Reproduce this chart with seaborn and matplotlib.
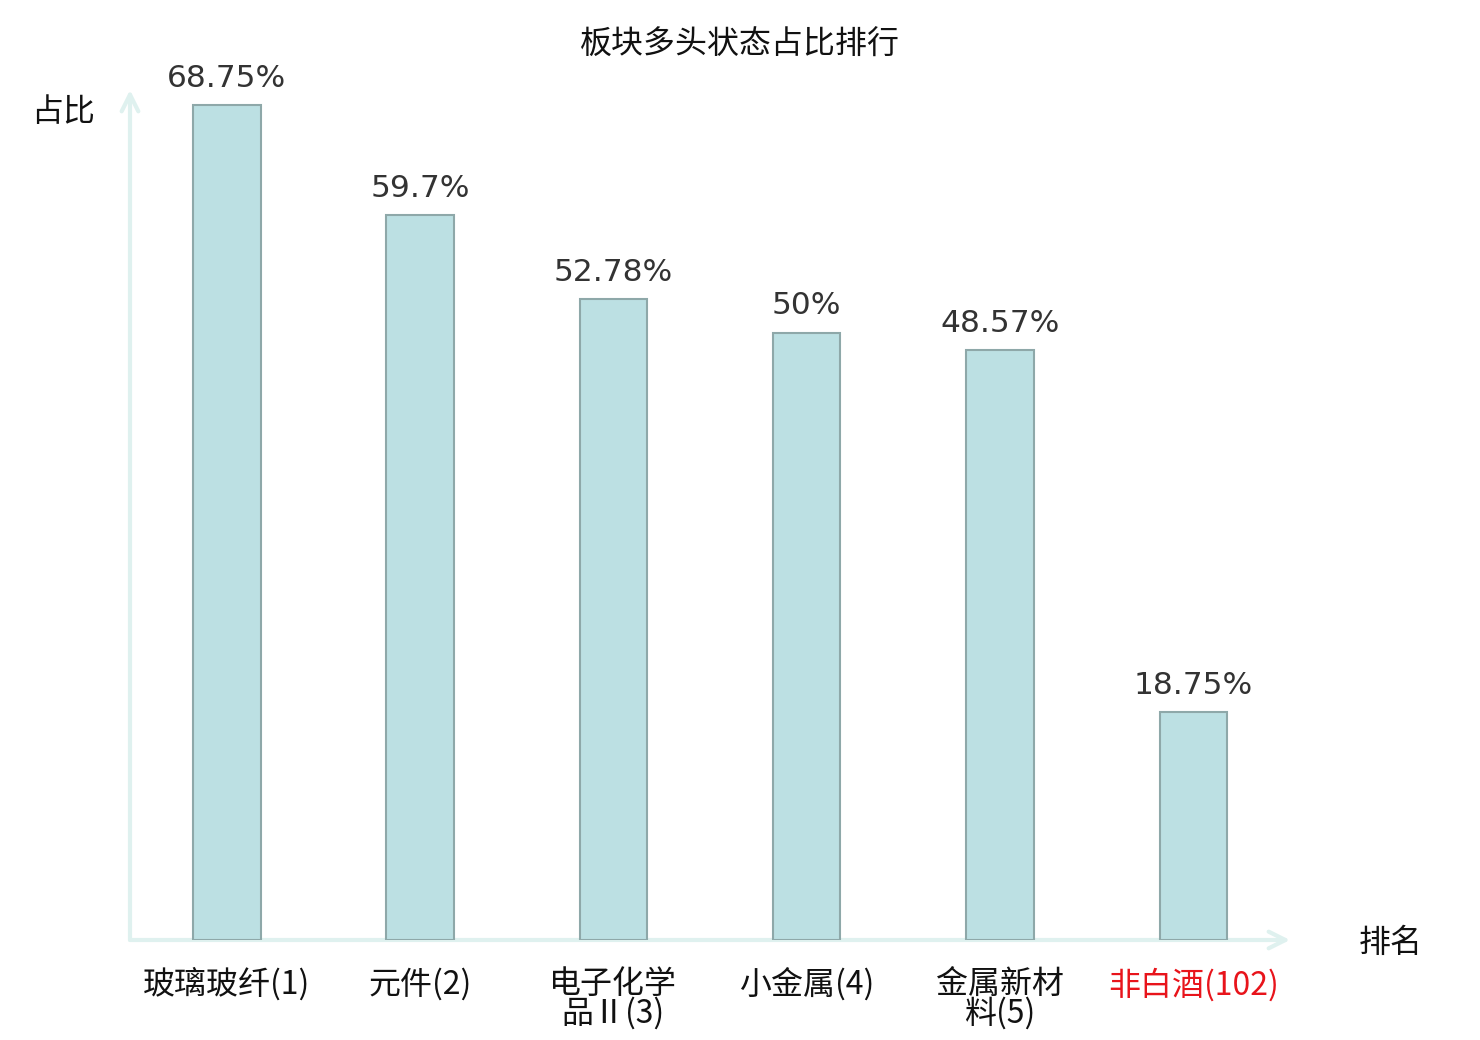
import matplotlib
matplotlib.use("Agg")
import matplotlib.pyplot as plt
import seaborn as sns
import pandas as pd

categories = ["玻璃玻纤(1)", "元件(2)", "电子化学\n品Ⅱ(3)", "小金属(4)", "金属新材\n料(5)", "非白酒(102)"]
values = [68.75, 59.7, 52.78, 50, 48.57, 18.75]
label_colors = ["#111111", "#111111", "#111111", "#111111", "#111111", "#e8141b"]
title = "板块多头状态占比排行"
y_name = "占比"
x_name = "排名"

sns.set_theme(style="white")
plt.rcParams["font.family"] = ["Noto Sans CJK SC", "DejaVu Sans"]

df = pd.DataFrame({"cat": categories, "val": values})

fig = plt.figure(figsize=(14.8, 10.4), dpi=100)
ax = fig.add_axes([130 / 1480, 100 / 1040, 1160 / 1480, 850 / 1040])

sns.barplot(data=df, x="cat", y="val", color="#bce0e3", saturation=1,
            width=0.35, edgecolor="#8ea8a9", linewidth=1.5, ax=ax)

ax.set_xlim(-0.5, 5.5)
ax.set_ylim(0, 70)
ax.set_xlabel("")
ax.set_ylabel("")
ax.set_yticks([])
for s in ax.spines.values():
    s.set_visible(False)
ax.tick_params(axis="x", length=0, pad=20, labelsize=23)
for lbl, c in zip(ax.get_xticklabels(), label_colors):
    lbl.set_color(c)
    lbl.set_linespacing(0.9)

labels = [f"{v:g}%" for v in values]
ax.bar_label(ax.containers[0], labels=labels, padding=9, fontsize=22.5,
             color="#333333", family="DejaVu Sans")

arrow_color = "#dff1ef"
ax.annotate("", xy=(0, 1.0), xytext=(0, 0), xycoords="axes fraction",
            arrowprops=dict(arrowstyle="->", color=arrow_color, lw=3,
                            mutation_scale=30, shrinkA=0, shrinkB=0),
            annotation_clip=False, zorder=0)
ax.annotate("", xy=(1.0, 0), xytext=(0, 0), xycoords="axes fraction",
            arrowprops=dict(arrowstyle="->", color=arrow_color, lw=3,
                            mutation_scale=30, shrinkA=0, shrinkB=0),
            annotation_clip=False, zorder=0)

fig.text(740 / 1480, 1 - 45 / 1040, title, ha="center", va="center",
         fontsize=23, color="#111111")
fig.text(63 / 1480, 1 - 112 / 1040, y_name, ha="center", va="center",
         fontsize=23, color="#111111")
fig.text(1391 / 1480, 1 - 943 / 1040, x_name, ha="center", va="center",
         fontsize=23, color="#111111")

fig.savefig("out.png", dpi=100)
